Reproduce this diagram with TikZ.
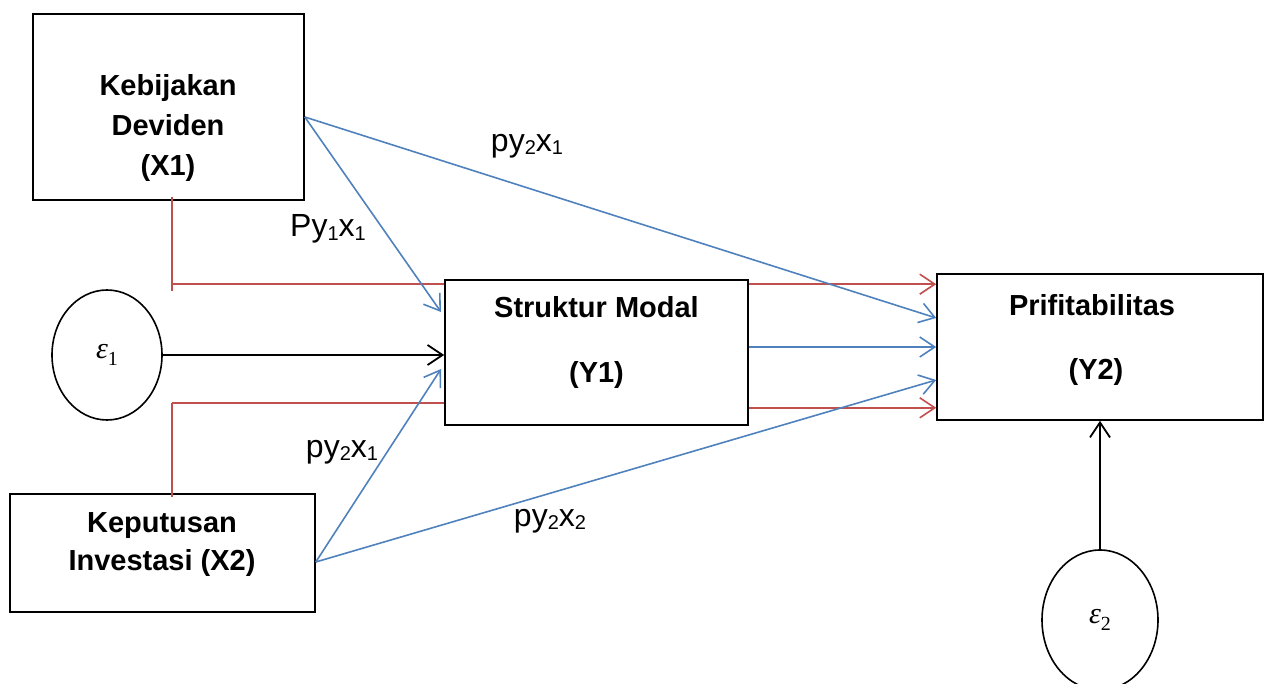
\documentclass[tikz,border=0pt]{standalone}
\usepackage{fontspec}
\setmainfont{Liberation Sans}
\newfontfamily\errfont{Liberation Serif}
\usetikzlibrary{arrows.meta,shapes.geometric}
\definecolor{pathred}{RGB}{192,80,77}
\definecolor{pathblue}{RGB}{79,129,189}
\newcommand{\sbs}[1]{\raisebox{-0.2ex}{\fontsize{20}{22}\selectfont #1}}
\newcommand{\errsym}[1]{{\errfont\itshape ε\raisebox{-0.45ex}{\upshape\fontsize{20}{22}\selectfont #1}}}
\begin{document}
\begin{tikzpicture}[x=1pt,y=-1pt,
  varbox/.style={draw,line width=1.6pt,minimum width=#1,inner sep=0pt},
  boxtext/.style={font=\fontsize{29}{40}\selectfont\bfseries,inner sep=0pt,align=center},
  errnode/.style={draw,ellipse,line width=1.6pt,inner sep=0pt,
    font=\fontsize{30}{32}\selectfont},
  coef/.style={font=\fontsize{32}{36}\selectfont,inner sep=0pt},
  barb/.style={-{Straight Barb[length=15pt,width=20pt]}},
  redpath/.style={pathred,line width=1.6pt},
  bluepath/.style={pathblue,line width=1.6pt},
  blackpath/.style={black,line width=1.8pt}]
\useasboundingbox (0,0) rectangle (1267,684);

% variable boxes
\node[varbox=271pt,minimum height=186pt] (x1) at (168.5,107) {};
\node[varbox=303pt,minimum height=145pt] (y1) at (596.5,352.5) {};
\node[varbox=326pt,minimum height=146pt] (y2) at (1100,347) {};
\node[varbox=305pt,minimum height=118pt] (x2) at (162.5,553) {};

% box labels
\node[boxtext] (x1t) at (168,128) {Kebijakan\\Deviden\\(X1)};
\node[boxtext,font=\fontsize{29}{38}\selectfont\bfseries] (x2t) at (162,545) {Keputusan\\Investasi (X2)};
\node[boxtext] (y1a) at (596.5,307) {Struktur Modal};
\node[boxtext] (y1b) at (596.5,375) {(Y1)};
\node[boxtext] (y2a) at (1092,305) {Prifitabilitas};
\node[boxtext] (y2b) at (1096,372) {(Y2)};

% error terms
\node[errnode,minimum width=110pt,minimum height=130pt] (e1) at (107,355) {\errsym{1}};
\node[errnode,minimum width=116pt,minimum height=140pt] (e2) at (1100,620) {\errsym{2}};

% junction points of the red paths
\coordinate (r1) at (172,284);
\coordinate (r2) at (172,403);

% red paths
\draw[redpath] (172,197) -- (172,291);
\draw[redpath] (r1) -- (r1 -| y1.west);
\draw[redpath,barb] ([yshift=-5pt]y1.north east) -- ([yshift=-5pt]y1.north east -| y2.west);
\draw[redpath] (172,497) -- (r2);
\draw[redpath] (r2) -- (r2 -| y1.west);
\draw[redpath,barb] ([yshift=18pt]y1.south east) -- ([yshift=18pt]y1.south east -| y2.west);

% blue paths
\coordinate (bx1) at ([yshift=-10pt]x1.east);
\coordinate (bx2) at ([yshift=-9pt]x2.east);
\draw[bluepath,barb] (bx1) -- (441,312);
\draw[bluepath,barb] (bx1) -- ([yshift=29pt]y2.west);
\draw[bluepath,barb] (y1.east |- y2.west) -- (y2.west);
\draw[bluepath,barb] (bx2) -- (441,369);
\draw[bluepath,barb] (bx2) -- ([yshift=-33pt]y2.west);

% error paths
\draw[blackpath,barb] (e1.east) -- (e1.east -| y1.west);
\draw[blackpath,barb] (e2.north) -- (e2.north |- y2.south);

% path coefficients
\node[coef] (c1) at (527,146) {py\sbs{2}x\sbs{1}};
\node[coef] (c2) at (328,229) {Py\sbs{1}x\sbs{1}};
\node[coef] (c3) at (342,452) {py\sbs{2}x\sbs{1}};
\node[coef] (c4) at (550,521) {py\sbs{2}x\sbs{2}};
\end{tikzpicture}
\end{document}
